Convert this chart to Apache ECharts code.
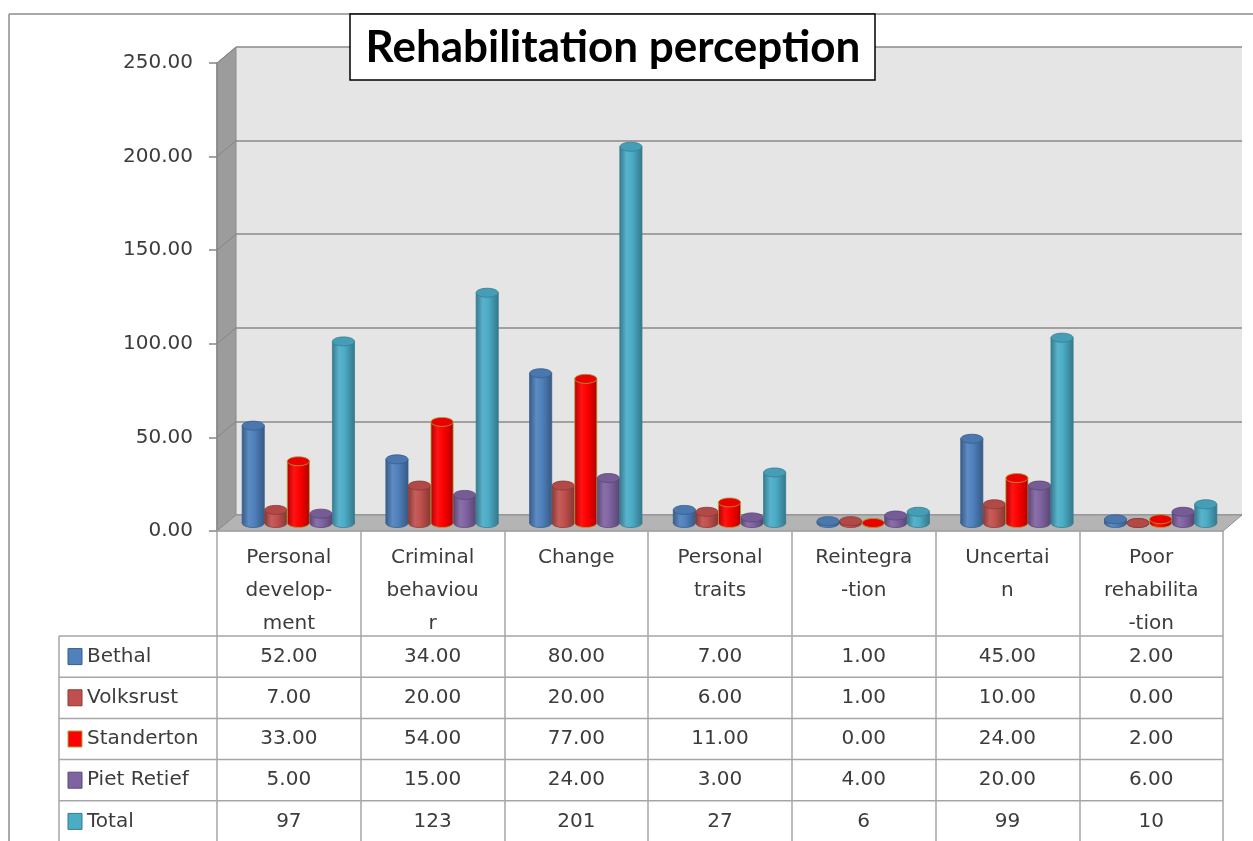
<!DOCTYPE html>
<html><head><meta charset="utf-8">
<script src="https://cdn.jsdelivr.net/npm/echarts@6/dist/echarts.min.js"></script>
<style>html,body{margin:0;padding:0;background:#fff}#c{width:1253px;height:841px}</style>
</head><body><div id="c"></div>
<script>
// ---------- data ----------
const categories = ['Personal\ndevelop-\nment', 'Criminal\nbehaviou\nr', 'Change', 'Personal\ntraits', 'Reintegra\n-tion', 'Uncertai\nn', 'Poor\nrehabilita\n-tion'];
const seriesNames = ['Bethal', 'Volksrust', 'Standerton', 'Piet Retief', 'Total'];
const bethal = [52, 34, 80, 7, 1, 45, 2];
const volksrust = [7, 20, 20, 6, 1, 10, 0];
const standerton = [33, 54, 77, 11, 0, 24, 2];
const pietRetief = [5, 15, 24, 3, 4, 20, 6];
const total = [97, 123, 201, 27, 6, 99, 10];
const titleText = 'Rehabilitation perception';
const yMax = 250, yStep = 50;

// ---------- styles / layout ----------
const seriesValues = [bethal, volksrust, standerton, pietRetief, total];
const colors = ['#4F81BD', '#C0504D', '#FF0000', '#8064A2', '#4BACC6'];
const strokes = ['#385d8a', '#8c3836', '#a3a838', '#5c4776', '#357d91'];
const FRONT = { left: 217, top: 63, width: 1006, height: 468 };
const DEPTH = { dx: 19, dy: -16 };
const TABLE = { headerBottom: 636, rowH: 41.2, labelLeft: 59, lineColor: '#a6a6a6' };
const FONT = 'DejaVu Sans';
const FS = 20;
const TEXT_COLOR = '#3c3c3c';

function hexToRgb(h) { h = h.replace('#', ''); return [0, 2, 4].map(i => parseInt(h.substr(i, 2), 16)); }
function shade(h, f) {
  const c = hexToRgb(h).map(v => f >= 0 ? Math.round(v + (255 - v) * f) : Math.round(v * (1 + f)));
  return 'rgb(' + c.join(',') + ')';
}

function makeRender(si) {
  const base = colors[si];
  const grad = { type: 'linear', x: 0, y: 0, x2: 1, y2: 0, colorStops: [
    { offset: 0, color: shade(base, -0.28) },
    { offset: 0.3, color: shade(base, 0.08) },
    { offset: 0.55, color: base },
    { offset: 1, color: shade(base, -0.3) }] };
  return function (params, api) {
    const cat = api.value(0), v = api.value(1);
    const top = api.coord([cat, v]);
    const bot = api.coord([cat, 0]);
    const band = api.size([1, 0])[0];
    const step = band * 0.157;
    const w = step * 0.98;
    const cx = top[0] + DEPTH.dx / 2 + (si - 2) * step;
    const yT = top[1] + DEPTH.dy / 2, yB = bot[1] + DEPTH.dy / 2;
    const rx = w / 2, ry = 4.5;
    const edge = strokes[si];
    return { type: 'group', children: [
      { type: 'ellipse', shape: { cx: cx, cy: yB, rx: rx, ry: ry }, style: { fill: grad, stroke: edge, lineWidth: 0.8 } },
      { type: 'rect', shape: { x: cx - rx, y: yT, width: w, height: Math.max(0, yB - yT) }, style: { fill: grad } },
      { type: 'line', shape: { x1: cx - rx, y1: yT, x2: cx - rx, y2: yB }, style: { stroke: edge, lineWidth: 0.8 } },
      { type: 'line', shape: { x1: cx + rx, y1: yT, x2: cx + rx, y2: yB }, style: { stroke: edge, lineWidth: 0.8 } },
      { type: 'ellipse', shape: { cx: cx, cy: yT, rx: rx, ry: ry }, style: { fill: shade(base, -0.08), stroke: edge, lineWidth: 0.8 } }
    ] };
  };
}

const chart = echarts.init(document.getElementById('c'), null, { renderer: 'canvas' });

const F = FRONT;
const yOf = t => F.top + F.height * (1 - t / yMax);
const graphics = [];
// outer frame
graphics.push({ type: 'line', shape: { x1: 9, y1: 14, x2: 1253, y2: 14 }, style: { stroke: '#8c8c8c', lineWidth: 1.5 }, z: 5 });
graphics.push({ type: 'line', shape: { x1: 9, y1: 14, x2: 9, y2: 841 }, style: { stroke: '#8c8c8c', lineWidth: 1.5 }, z: 5 });
// side wall
graphics.push({ type: 'polygon', shape: { points: [[F.left, F.top], [F.left + DEPTH.dx, F.top + DEPTH.dy], [F.left + DEPTH.dx, F.top + F.height + DEPTH.dy], [F.left, F.top + F.height]] }, style: { fill: '#9c9c9c', stroke: '#8a8a8a', lineWidth: 1 }, z: 1 });
for (let t = 0; t <= yMax; t += yStep) {
  graphics.push({ type: 'line', shape: { x1: F.left, y1: yOf(t), x2: F.left + DEPTH.dx, y2: yOf(t) + DEPTH.dy }, style: { stroke: '#858585', lineWidth: 1 }, z: 1 });
}
// floor
graphics.push({ type: 'polygon', shape: { points: [[F.left, F.top + F.height], [F.left + F.width, F.top + F.height], [F.left + F.width + DEPTH.dx, F.top + F.height + DEPTH.dy], [F.left + DEPTH.dx, F.top + F.height + DEPTH.dy]] }, style: { fill: '#b4b4b4', stroke: '#8f8f8f', lineWidth: 1 }, z: 1 });
// table horizontal lines
for (let r = 0; r <= seriesNames.length; r++) {
  const y = TABLE.headerBottom + r * TABLE.rowH;
  graphics.push({ type: 'line', shape: { x1: TABLE.labelLeft, y1: y, x2: F.left + F.width, y2: y }, style: { stroke: TABLE.lineColor, lineWidth: 1.5 }, z: 3 });
}
graphics.push({ type: 'line', shape: { x1: TABLE.labelLeft, y1: TABLE.headerBottom, x2: TABLE.labelLeft, y2: 841 }, style: { stroke: TABLE.lineColor, lineWidth: 1.5 }, z: 3 });
// table rows
const colW = F.width / categories.length;
seriesNames.forEach((name, r) => {
  const cy = TABLE.headerBottom + r * TABLE.rowH + TABLE.rowH / 2;
  graphics.push({ type: 'rect', shape: { x: 68, y: cy - 8, width: 14, height: 16 }, style: { fill: colors[r], stroke: strokes[r], lineWidth: 1 }, z: 4 });
  graphics.push({ type: 'text', x: 87, y: cy, style: { text: name, font: FS + 'px "' + FONT + '"', fill: TEXT_COLOR, textAlign: 'left', textVerticalAlign: 'middle' }, z: 4 });
  seriesValues[r].forEach((v, c) => {
    const txt = r === seriesNames.length - 1 ? String(v) : v.toFixed(2);
    graphics.push({ type: 'text', x: F.left + colW * (c + 0.5), y: cy, style: { text: txt, font: FS + 'px "' + FONT + '"', fill: TEXT_COLOR, textAlign: 'center', textVerticalAlign: 'middle' }, z: 4 });
  });
});
// title box
graphics.push({ type: 'rect', shape: { x: 350, y: 14, width: 525, height: 66 }, style: { fill: '#fff', stroke: '#000', lineWidth: 1.5 }, z: 10 });
graphics.push({ type: 'text', x: 613, y: 48, style: { text: titleText, font: 'bold 44px Lato', fill: '#000', textAlign: 'center', textVerticalAlign: 'middle' }, z: 11 });

const option = {
  animation: false,
  backgroundColor: '#fff',
  grid: [
    { left: F.left, top: F.top, width: F.width, height: F.height, containLabel: false },
    { left: F.left + DEPTH.dx, top: F.top + DEPTH.dy, width: F.width, height: F.height, show: true, backgroundColor: '#e5e5e5', borderWidth: 0, z: 0 }
  ],
  xAxis: [
    { type: 'category', gridIndex: 0, data: categories, boundaryGap: true,
      axisLine: { show: true, lineStyle: { color: TABLE.lineColor, width: 1.5 } },
      axisTick: { show: true, interval: 0, length: 310, lineStyle: { color: TABLE.lineColor, width: 1.5 } },
      axisLabel: { interval: 0, margin: 10, fontFamily: FONT, fontSize: FS, lineHeight: 33, color: TEXT_COLOR },
      splitLine: { show: false }, z: 3 },
    { type: 'category', gridIndex: 1, data: categories, show: false }
  ],
  yAxis: [
    { type: 'value', gridIndex: 0, min: 0, max: yMax, interval: yStep,
      axisLine: { show: true, lineStyle: { color: '#868686', width: 1.5 } },
      axisTick: { show: true, length: 8, lineStyle: { color: '#868686', width: 1.5 } },
      axisLabel: { margin: 24, fontFamily: FONT, fontSize: FS, color: TEXT_COLOR, formatter: v => v.toFixed(2) },
      splitLine: { show: false }, z: 3 },
    { type: 'value', gridIndex: 1, min: 0, max: yMax, interval: yStep,
      axisLine: { show: false }, axisTick: { show: false }, axisLabel: { show: false },
      splitLine: { show: true, lineStyle: { color: '#8a8a8a', width: 1.5 } } }
  ],
  series: seriesNames.map((name, si) => ({
    type: 'custom', name: name, xAxisIndex: 0, yAxisIndex: 0, silent: true, z: 2,
    renderItem: makeRender(si),
    data: seriesValues[si].map((v, i) => [i, v])
  })),
  graphic: { elements: graphics }
};
chart.setOption(option);
</script></body></html>
